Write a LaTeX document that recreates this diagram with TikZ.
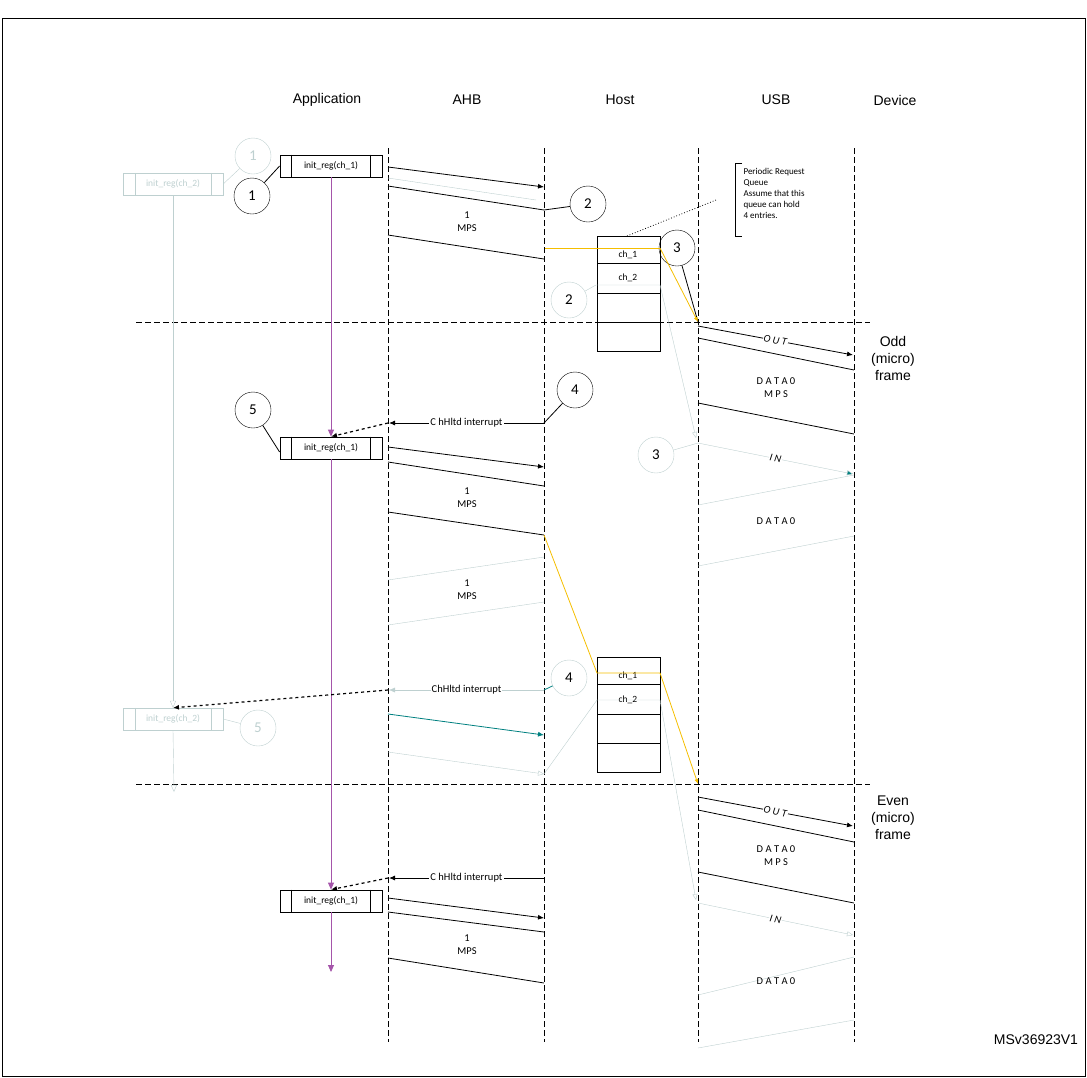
\documentclass[tikz,border=0pt]{standalone}
\usepackage{fontspec}
\setmainfont{Liberation Sans}
\newfontfamily\smallfont{Carlito}
\usetikzlibrary{arrows.meta}
\definecolor{fade}{RGB}{190,208,208}
\definecolor{tealc}{RGB}{0,128,128}
\definecolor{yel}{RGB}{245,190,0}
\definecolor{purp}{RGB}{165,85,170}
\tikzset{
  life/.style={black,thick,dash pattern=on 6pt off 3pt},
  regbox/.style={draw,thick,minimum width=102pt,minimum height=22pt,inner sep=0pt,font=\smallfont\fontsize{9.5}{10}\selectfont},
  num/.style={draw,circle,minimum size=36pt,inner sep=0pt,font=\smallfont\fontsize{15}{15}\selectfont},
  msg/.style={font=\smallfont\fontsize{10.5}{13}\selectfont,align=center},
  qrow/.style={font=\smallfont\fontsize{9.5}{10}\selectfont}
}
\begin{document}
\begin{tikzpicture}[x=1pt,y=-1pt,>={Latex[length=6pt,width=5pt]}]
\useasboundingbox (0,0) rectangle (1087,1077);
\draw (2,18) rectangle (1085,1076);
% headers
\foreach \x/\t in {327/Application,467/AHB,620/Host,776/USB,895/Device}
  \node[font=\fontsize{14}{16}\selectfont] (h\t) at (\x,100) {\t};
\foreach \x in {388,544,698,854}
  \draw[life] (\x,148) -- (\x,1042);
\draw[life] (136,322) -- (870,322);
\draw[life] (136,784) -- (870,784);
\node[align=center,font=\fontsize{14}{17}\selectfont] (odd) at (893,358) {Odd\\(micro)\\frame};
\node[align=center,font=\fontsize{14}{17}\selectfont] (even) at (893,818) {Even\\(micro)\\frame};
\node[font=\fontsize{14}{16}\selectfont] (ver) at (1036,1040) {MSv36923V1};

% application boxes
\foreach \n/\y in {a/166,b/448,c/901} {
  \node[regbox] (reg\n) at (331,\y) {init\_reg(ch\_1)};
  \draw[thick] ([xshift=12pt]reg\n.north west) -- ([xshift=12pt]reg\n.south west);
  \draw[thick] ([xshift=-12pt]reg\n.north east) -- ([xshift=-12pt]reg\n.south east);
}
\foreach \n/\y in {a/184,b/719} {
  \node[regbox,draw=fade,text=fade,thin,minimum width=100pt] (faint\n) at (173,\y) {init\_reg(ch\_2)};
  \draw[fade] ([xshift=12pt]faint\n.north west) -- ([xshift=12pt]faint\n.south west);
  \draw[fade] ([xshift=-12pt]faint\n.north east) -- ([xshift=-12pt]faint\n.south east);
}
\draw[purp,thick,-{Triangle[length=7pt,width=6pt]}] (rega.south) -- (regb.north);
\draw[purp,thick,-{Triangle[length=7pt,width=6pt]}] (regb.south) -- (regc.north);
\draw[purp,thick,-{Triangle[length=7pt,width=6pt]}] (regc.south) -- (331,972);
\draw[fade,-{Triangle[open,length=7pt,width=6pt]}] (fainta.south) -- (faintb.north);
\draw[fade,-{Triangle[open,length=7pt,width=6pt]}] (faintb.south) -- (174,792);

% numbered circles
\node[num] (c1) at (252,196) {1};
\node[num,draw=fade,text=fade] (f1) at (253,156) {1};
\node[num] (c2) at (588,204) {2};
\node[num,draw=fade] (f2) at (569,300) {2};
\node[num] (c3) at (677,248) {3};
\node[num,draw=fade] (f3) at (656,455) {3};
\node[num] (c4) at (575,390) {4};
\node[num,draw=fade] (c4b) at (569,678) {4};
\node[num] (c5) at (253,410) {5};
\node[num,draw=fade,text=fade] (f5) at (258,728) {5};
\draw[thick] (c1) -- (rega.west);
\draw[fade] (f1) -- (fainta.east);
\draw[thick] (c5) -- ([yshift=-4pt]regb.west);
\draw[fade] (f5) -- (faintb.east);
\draw[thick] (c2) -- (544,210);
\draw[thick] (c3) -- (698,322);
\draw[fade] (f3) -- (698,443);
\draw[thick] (c4) -- (544,423);
\draw[tealc,thick] (c4b) -- (544,690);

% host queues
\foreach \q/\y in {qa/236,qb/657} {
  \draw (597,\y) rectangle (660,\y+115);
  \foreach \d in {27,57,86} \draw (597,\y+\d) -- (660,\y+\d);
}
\node[qrow] (q1a) at (628,255) {ch\_1};
\node[qrow] (q2a) at (628,278) {ch\_2};
\node[qrow] (q1b) at (628,676) {ch\_1};
\node[qrow] (q2b) at (628,700) {ch\_2};
\draw[fade] (f2) -- (596,285) -- (660,285);
\draw[fade,-{Triangle[open,length=6pt,width=5pt]}] (660,285) -- (696,438);
\draw[thick,dotted] (627,236) -- (716,200);
\draw (742,163) -- (735,163) -- (735,236) -- (742,236);
\node[align=left,anchor=north west,font=\smallfont\fontsize{9}{11}\selectfont] (note) at (740,165) {Periodic Request\\Queue\\Assume that this\\queue can hold\\4 entries.};

% first period, AHB
\draw[thick,->] (388,167) -- (544,187);
\draw[fade] (388,178) -- (536,200);
\draw[thick] (388,186) -- (544,210);
\draw[thick] (388,235) -- (544,259);
\node[msg] (mps1) at (467,222) {1\\MPS};

% odd frame USB
\draw[thick,->] (698,326) -- node[msg,fill=white,inner sep=0.5pt,sloped]{\textit{O U T}} (853,355);
\draw[thick] (698,338) -- (854,370);
\draw[thick] (698,403) -- (854,434);
\node[msg] (d1) at (776,388) {D A T A 0\\M P S};
\draw[fade,-{Triangle[length=6pt,width=5pt,fill=tealc]}] (698,443) -- node[msg,fill=white,inner sep=0.5pt,sloped,text=black]{\textit{I N}} (853,474);
\draw[fade] (698,505) -- (854,475);
\draw[fade] (698,566) -- (854,536);
\node[msg] (d2) at (776,521) {D A T A 0};

% interrupt and second transfer
\draw[thick,->] (544,423) -- node[msg,fill=white,inner sep=1pt]{C hHltd interrupt} (389,423);
\draw[very thick,dashed,->] (388,423) -- (regb.north);
\draw[thick,->] (388,447) -- (544,467);
\draw[thick] (388,462) -- (544,486);
\draw[thick] (388,512) -- (544,535);
\node[msg] (mps2) at (467,498) {1\\MPS};
\draw[fade] (388,580) -- (544,557);
\draw[fade] (388,625) -- (544,602);
\node[msg] (mps3) at (467,590) {1\\MPS};
\draw[fade,->] (544,690) -- node[msg,fill=white,inner sep=1pt,text=black]{ChHltd interrupt} (389,690);
\draw[very thick,dashed,->] (388,690) -- (faintb.north);
\draw[tealc,thick,->] (388,714) -- (544,735);
\draw[fade,-{Triangle[open,length=6pt,width=5pt]}] (388,752) -- (544,774);
\draw[fade] (544,774) -- (597,700) -- (660,700);
\draw[fade,-{Triangle[open,length=6pt,width=5pt]}] (660,700) -- (696,900);

% even frame USB
\draw[thick,->] (698,797) -- node[msg,fill=white,inner sep=0.5pt,sloped]{\textit{O U T}} (853,826);
\draw[thick] (698,810) -- (854,842);
\draw[thick] (698,872) -- (854,903);
\node[msg] (d3) at (776,856) {D A T A 0\\M P S};
\draw[fade,-{Triangle[open,length=6pt,width=5pt]}] (698,903) -- node[msg,fill=white,inner sep=0.5pt,sloped,text=black]{\textit{I N}} (853,935);
\draw[fade] (698,995) -- (854,957);
\draw[fade] (698,1048) -- (854,1020);
\node[msg] (d4) at (776,981) {D A T A 0};

% third transfer
\draw[thick,->] (544,878) -- node[msg,fill=white,inner sep=1pt]{C hHltd interrupt} (389,878);
\draw[very thick,dashed,->] (388,878) -- (regc.north);
\draw[thick,->] (388,898) -- (544,918);
\draw[thick] (388,912) -- (544,932);
\draw[thick] (388,958) -- (544,983);
\node[msg] (mps4) at (467,945) {1\\MPS};

% yellow request paths on top
\draw[yel,thick] (545,248) -- (660,248);
\draw[yel,thick,-{Latex[length=5pt,width=4pt]}] (660,248) -- (698,322);
\draw[yel,thick] (544,535) -- (597,673) -- (660,673);
\draw[yel,thick,-{Latex[length=5pt,width=4pt]}] (660,673) -- (698,784);
\end{tikzpicture}
\end{document}
